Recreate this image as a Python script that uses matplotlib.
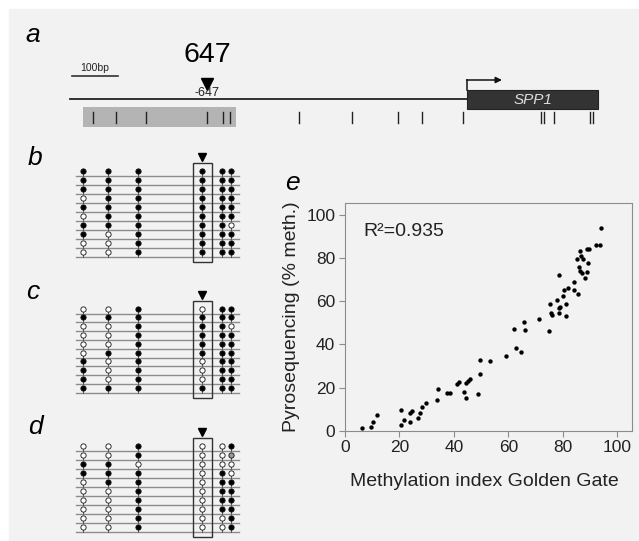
import matplotlib
matplotlib.use("Agg")
from matplotlib import pyplot as plt
from matplotlib.patches import Rectangle
import numpy as np

plt.rcParams['font.family'] = ['Liberation Sans', 'DejaVu Sans']

# ---- data ----
# CpG sites along the promoter (bp relative to SPP1 start)
cpg_sites = [-813, -763, -698, -565, -530, -515, -365, -250, -150, -98, -9,
             161, 167, 189, 267, 274]
target_site = -565          # marked CpG (-647 label)
target_label = "-647"
probe_name = "647"
gene_name = "SPP1"
gene_start, gene_end = 0, 285
line_start = -863
region_start, region_end = -835, -502   # sequenced region (grey box)
scalebar = (-859, -759)

# bisulfite clones, one list per CpG column (1 = methylated, 0 = unmethylated)
lolli_cols = [-834, -780, -716, -575, -532, -512]
lolli_box_col = 3
clones_b = [[1, 1, 1, 0, 1, 0, 1, 1, 0, 0],
            [1, 1, 1, 1, 1, 1, 1, 0, 0, 0],
            [1, 1, 1, 1, 1, 1, 1, 1, 1, 1],
            [1, 1, 1, 1, 1, 1, 1, 1, 1, 1],
            [1, 1, 1, 1, 1, 1, 1, 1, 1, 1],
            [1, 1, 1, 1, 1, 1, 0, 1, 1, 1]]
clones_c = [[0, 1, 0, 0, 0, 0, 1, 1, 1, 1],
            [0, 1, 0, 0, 0, 1, 0, 0, 0, 1],
            [1, 1, 1, 1, 1, 1, 1, 1, 1, 1],
            [0, 1, 1, 1, 1, 1, 0, 0, 0, 1],
            [1, 1, 1, 1, 1, 1, 1, 1, 1, 1],
            [1, 1, 0, 1, 1, 1, 1, 1, 1, 1]]
clones_d = [[0, 0, 1, 1, 0, 0, 0, 0, 0, 0],
            [0, 0, 1, 1, 1, 0, 0, 0, 0, 0],
            [1, 1, 0, 1, 1, 1, 1, 1, 1, 1],
            [0, 0, 0, 0, 0, 0, 0, 0, 0, 0],
            [0, 0, 0, 1, 1, 1, 1, 1, 0, 0],
            [1, 0.5, 0, 0, 1, 1, 1, 1, 1, 1]]

# Golden Gate vs pyrosequencing
gg = [6.4, 9.4, 10.2, 11.6, 20.7, 20.6, 21.5, 23.7, 23.9, 24.7, 26.9, 27.4,
      28.3, 29.9, 33.9, 34.0, 37.5, 38.6, 41.0, 42.0, 43.6, 44.4, 44.3, 45.3,
      46.0, 48.8, 49.6, 49.7, 53.4, 59.2, 62.7, 64.6,
      62.1, 65.9, 66.0, 71.1, 74.8, 75.4, 75.5, 76.0, 78.6, 78.0, 78.5, 79.0,
      78.7, 81.2, 81.2, 80.3, 81.9, 80.2, 84.0, 84.2, 85.5, 85.1, 86.3, 86.5,
      87.5, 86.1, 86.3, 87.2, 88.8, 88.2, 89.4, 89.0, 89.7, 92.2, 93.6, 94.0]
pyro = [1.1, 1.9, 3.9, 7.4, 9.6, 2.8, 4.8, 3.9, 8.4, 9.1, 5.7, 8.2,
        11.0, 13.0, 14.1, 19.1, 17.7, 17.4, 21.6, 22.6, 18.1, 15.3, 21.9, 23.1,
        23.9, 17.1, 26.5, 32.6, 32.1, 34.4, 38.3, 36.7,
        47.2, 50.3, 46.5, 51.8, 46.2, 58.7, 54.4, 53.6, 72.3, 60.4, 57.0, 57.3,
        54.5, 58.6, 53.0, 65.4, 66.0, 62.6, 69.1, 65.1, 63.4, 79.6, 83.4, 81.1,
        79.5, 75.7, 74.0, 73.3, 73.4, 70.6, 77.6, 84.0, 84.0, 86.2, 86.2, 93.8]
r2_text = "R²=0.935"

# ---- figure ----
W, H = 639, 541
fig = plt.figure(figsize=(W / 100, H / 100), dpi=100, facecolor='white')
fig.add_artist(Rectangle((9 / W, 0), 1, 1 - 9 / H, transform=fig.transFigure,
                         color='#f2f2f2', zorder=0))

# diagram axes: x in bp (0.46 px per bp, start of SPP1 at 467 px), y in px
ax = fig.add_axes([0, 0, 1, 1])
ax.set_xlim(-467 / 0.46, (W - 467) / 0.46)
ax.set_ylim(H, 0)
ax.axis('off')
ax.patch.set_alpha(0)

# panel a
ax.plot([line_start, gene_start], [99, 99], color='#222222', lw=1.3)
ax.add_patch(Rectangle((gene_start, 90), gene_end - gene_start, 19,
                       facecolor='#333333', edgecolor='#222222', lw=0.8))
ax.text((gene_start + gene_end) / 2, 100, gene_name, style='italic',
        color='#dddddd', fontsize=11, ha='center', va='center')
ax.plot([gene_start, gene_start], [90, 80], color='#111111', lw=1.1)
ax.annotate('', xy=(76, 80), xytext=(gene_start - 1, 80),
            arrowprops=dict(arrowstyle='-|>', color='#111111', lw=1.1,
                            mutation_scale=9, shrinkA=0, shrinkB=0))
ax.add_patch(Rectangle((region_start, 107), region_end - region_start, 20,
                       facecolor='#b4b4b4', edgecolor='none'))
for s in cpg_sites:
    ax.plot([s, s], [112, 123], color='#222222', lw=1.0)
ax.plot(scalebar, [76, 76], color='#333333', lw=1.2)
ax.text(np.mean(scalebar), 73, "100bp", fontsize=7.5, ha='center', va='bottom',
        color='#222222')
ax.plot(target_site, 83.5, marker='v', ms=8.6, color='black')
ax.text(target_site, 93, target_label, fontsize=9, ha='center', va='center',
        color='#222222')
ax.text(target_site, 55, probe_name, fontsize=20.5, ha='center', va='center')


def lollipop(states, top, step=9.0):
    n = len(states[0])
    lines_y = [top + i * step + 5 for i in range(n)]
    for y in lines_y:
        ax.plot([-850, -496], [y, y], color='#8c8c8c', lw=1.0, zorder=2)
    for x, col in zip(lolli_cols, states):
        for i, v in enumerate(col):
            y = top + i * step
            ax.plot([x, x], [y, lines_y[i]], color='#555555', lw=0.7, zorder=3)
            fc = 'black' if v == 1 else ('#9a9a9a' if v == 0.5 else 'white')
            ax.plot(x, y, 'o', ms=3.8, mfc=fc, mec='#111111', mew=0.6, zorder=4)
    bx = lolli_cols[lolli_box_col]
    y0 = top - 8
    y1 = lines_y[-1] + 5.5
    ax.add_patch(Rectangle((bx - 20.5, y0), 41, y1 - y0, facecolor='none',
                           edgecolor='#333333', lw=1.0, zorder=5))
    ax.plot(bx, top - 14, marker='v', ms=5.5, color='black')


lollipop(clones_b, 170.5)
lollipop(clones_c, 308.5, 8.8)
lollipop(clones_d, 445.7)

for lab, x, y in [("a", 33, 35), ("b", 35, 158), ("c", 33, 292), ("d", 35, 427)]:
    fig.text(x / W, 1 - y / H, lab, fontsize=19, style='italic', ha='center',
             va='center')

# panel e
axe = fig.add_axes([345 / W, 1 - 430.7 / H, 286.7 / W, 227.4 / H])
axe.patch.set_alpha(0)
axe.scatter(gg, pyro, s=10, color='black', lw=0)
axe.set_xlim(0, 105.3)
axe.set_ylim(0, 105.4)
axe.set_xticks(range(0, 101, 20))
axe.set_yticks(range(0, 101, 20))
for sp in axe.spines.values():
    sp.set_color('#8c8c8c')
axe.tick_params(direction='out', length=4, color='#8c8c8c', labelsize=12.5,
                labelcolor='#222222', pad=3)
axe.set_xlabel("Methylation index Golden Gate", fontsize=14, color='#222222')
axe.xaxis.set_label_coords(0.485, -0.224)
axe.xaxis.label.set_va('center')
axe.set_ylabel("Pyrosequencing (% meth.)", fontsize=14, color='#222222')
axe.yaxis.set_label_coords(-0.188, 0.5)
axe.yaxis.label.set_va('center')
axe.text(6.6, 92.3, r2_text, fontsize=14, ha='left', va='center',
         color='#222222')
fig.text(292 / W, 1 - 183 / H, "e", fontsize=19, style='italic', ha='center',
         va='center')

fig.savefig("out.png", dpi=100, facecolor=fig.get_facecolor())
